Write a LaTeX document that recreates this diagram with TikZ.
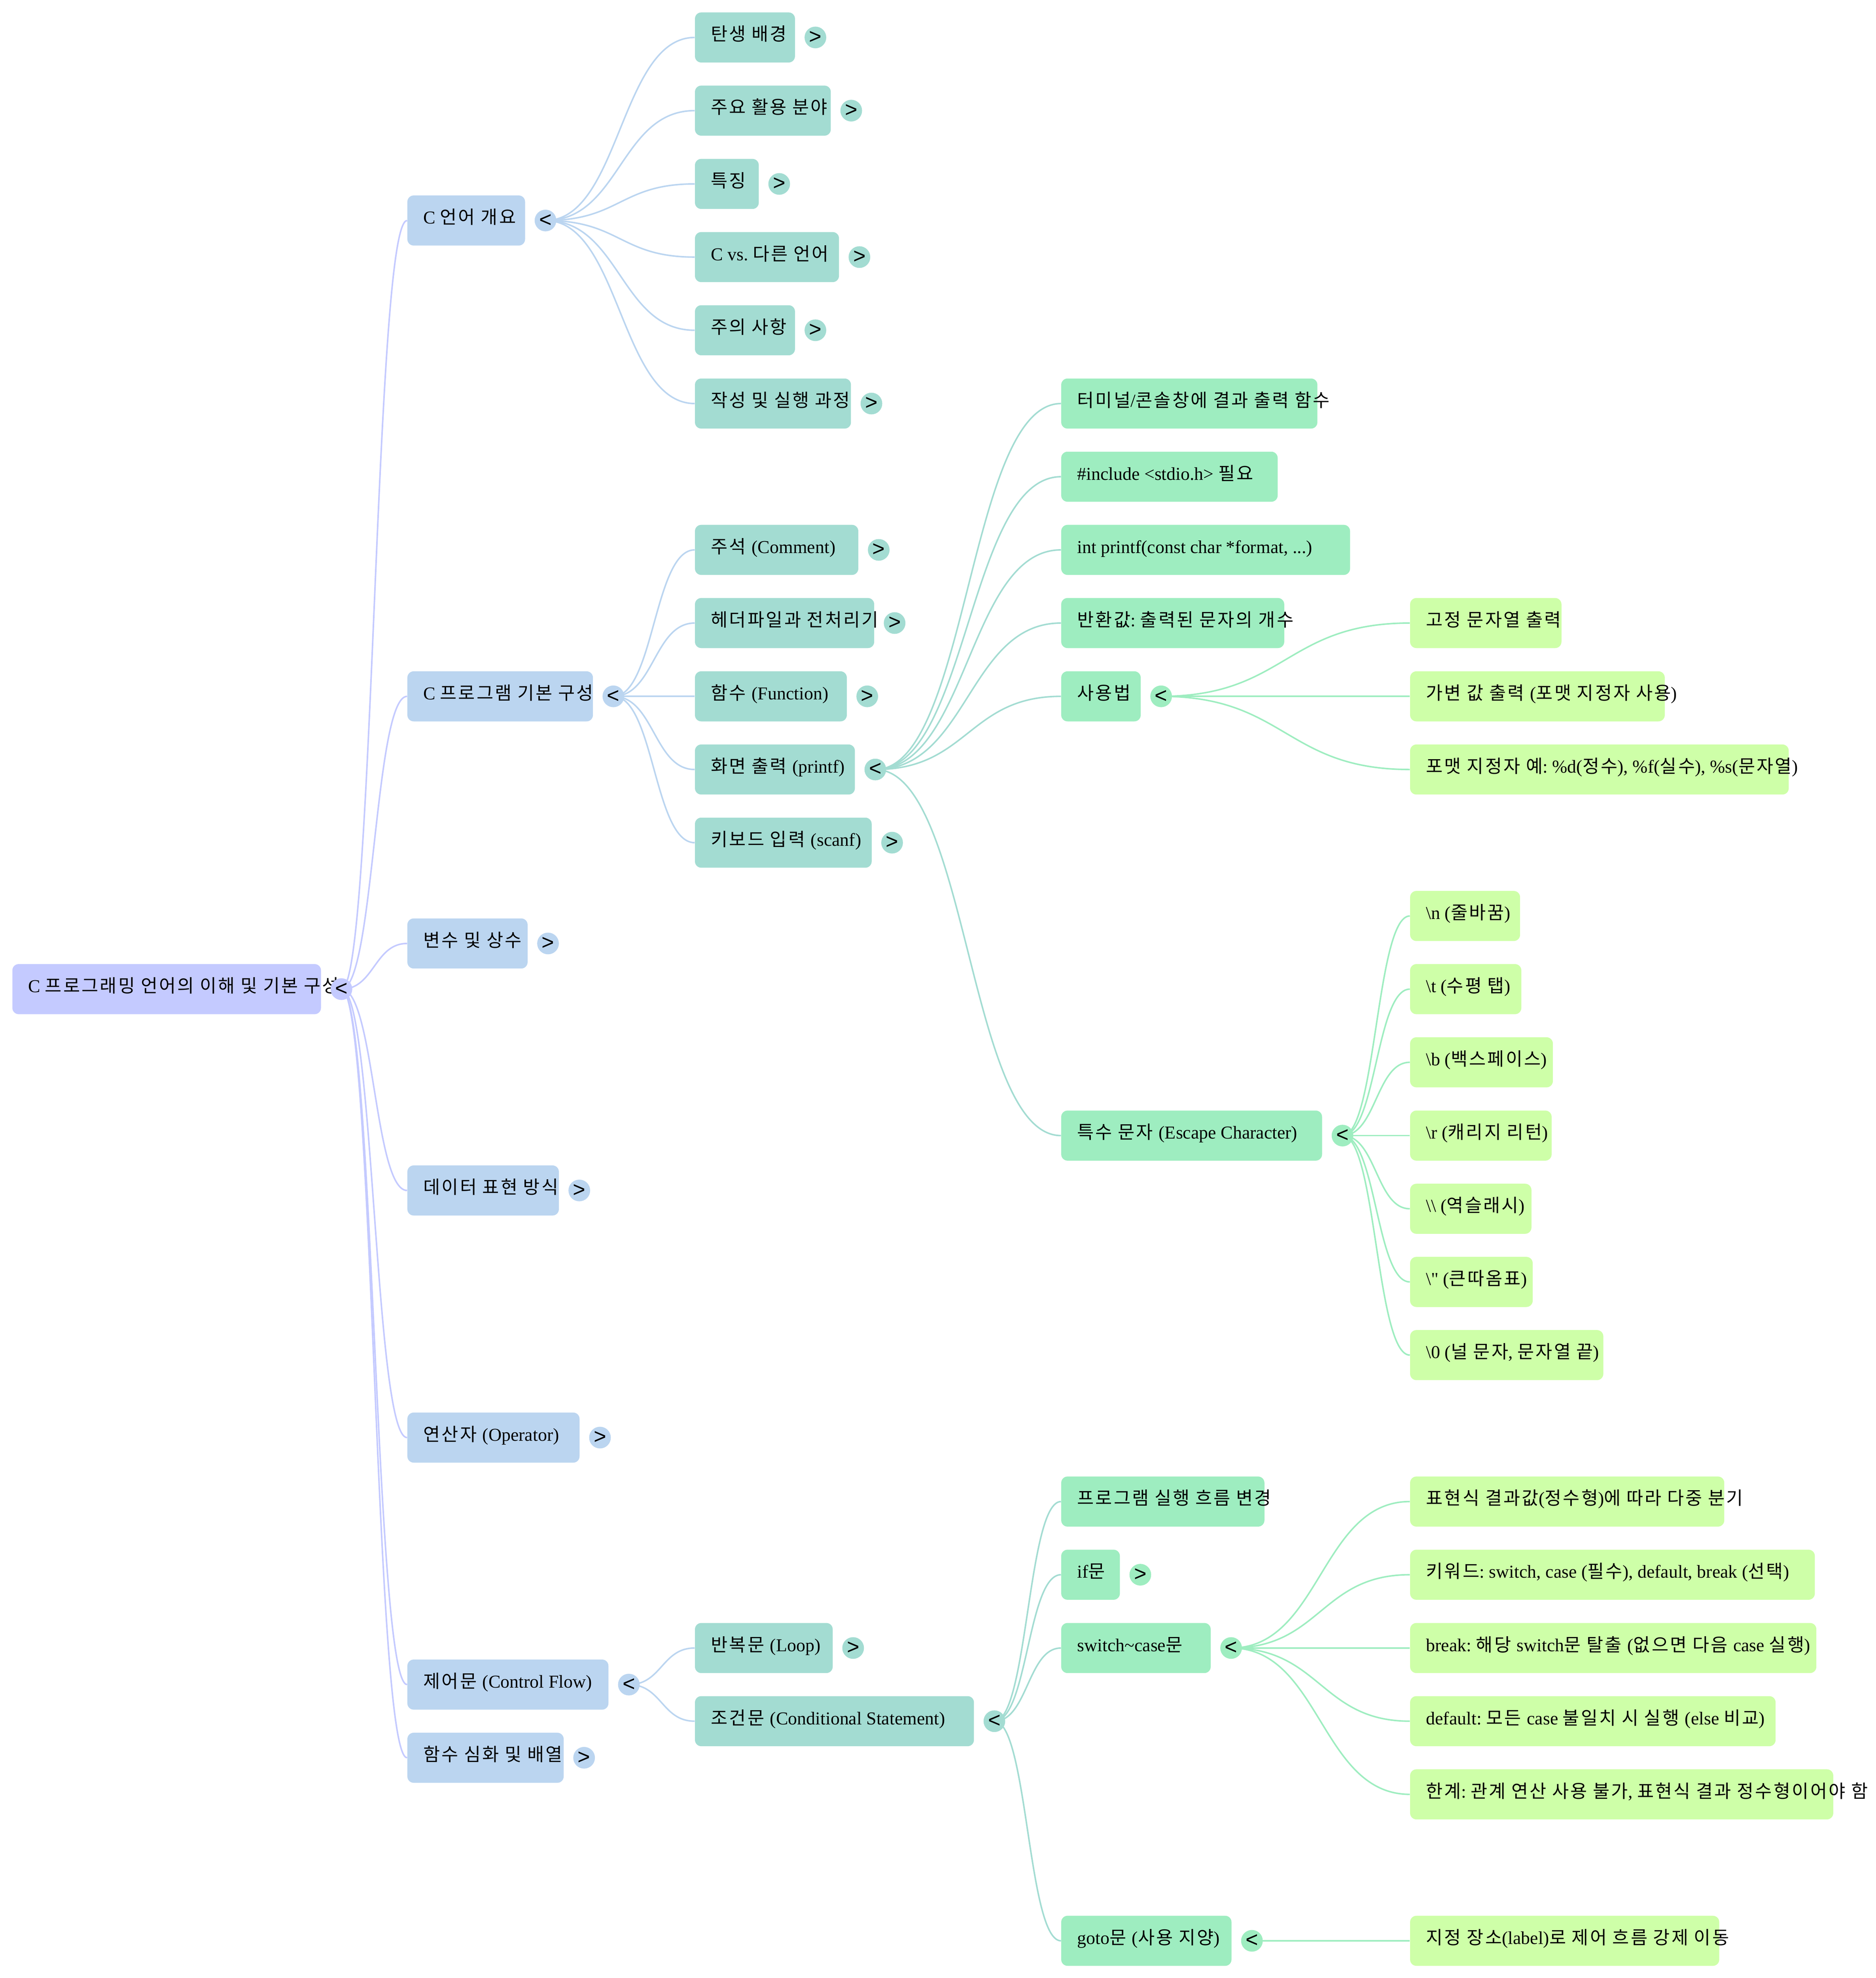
\documentclass[tikz,border=0pt]{standalone}
\usepackage{fontspec}
\setmainfont{Liberation Serif}
\newfontfamily\hangulfont[Scale=1.0,LetterSpace=9]{Noto Sans CJK KR}
\newfontfamily\knobfont{Liberation Sans}
\usetikzlibrary{calc,backgrounds}
\frenchspacing

% Hangul syllables are set in their own font
\XeTeXinterchartokenstate=1
\newXeTeXintercharclass\hangulclass
\newcount\hcode
\hcode="AC00
\loop
  \XeTeXcharclass\hcode=\hangulclass
  \advance\hcode by 1
\ifnum\hcode<"D7A4 \repeat
\newcommand\latinswitch{\rmfamily}
\XeTeXinterchartoks 0 \hangulclass = {\hangulfont}
\XeTeXinterchartoks 4095 \hangulclass = {\hangulfont}
\XeTeXinterchartoks \hangulclass 0 = {\latinswitch}
\XeTeXinterchartoks 4095 0 = {\latinswitch}

\definecolor{rootc}{RGB}{196,202,255}
\definecolor{lvonec}{RGB}{187,213,240}
\definecolor{lvtwoc}{RGB}{163,220,210}
\definecolor{lvthreec}{RGB}{158,237,192}
\definecolor{lvfourc}{RGB}{206,255,168}

% box of fixed width, text may run past it
\newcommand\fixw[2]{\makebox[\dimexpr#1pt-25.4pt\relax][l]{#2}}

\begin{document}
\begin{tikzpicture}[x=1pt,y=-1pt]

      \tikzset{tbox/.style={anchor=west, rounded corners=5pt, inner xsep=12.7pt, inner ysep=0pt,
                 minimum height=39.7pt, text height=9.6pt, text depth=4.4pt,
                 font=\fontsize{14.4}{17}\selectfont},
               rootbox/.style={tbox, fill=rootc},
               lvone/.style={tbox, fill=lvonec},
               lvtwo/.style={tbox, fill=lvtwoc},
               lvthree/.style={tbox, fill=lvthreec},
               lvfour/.style={tbox, fill=lvfourc},
               knob/.style={circle, fill=#1, inner sep=0pt, minimum size=17.2pt,
                 font=\knobfont\fontsize{17}{17}\selectfont\let\latinswitch\relax},
               linkline/.style={line width=1.2pt, to path={let \p1=(\tikztostart), \p2=(\tikztotarget) in
                 .. controls ({(\x1+\x2)/2},\y1) and ({(\x1+\x2)/2},\y2) .. (\tikztotarget)}}}

      \useasboundingbox (0,0) rectangle (1487.2,1568);
%% Root
      	\node[rootbox] (root) at (9.6,784.1) {\fixw{244.7}{C 프로그래밍 언어의 이해 및 기본 구성}};
%% Level 1
      	\node[lvone] (intro) at (322.8,174.8) {\fixw{93.3}{C 언어 개요}};
      	\node[lvone] (basic) at (322.8,552.0) {\fixw{147.1}{C 프로그램 기본 구성}};
      	\node[lvone] (vars) at (322.8,747.9) {\fixw{95.3}{변수 및 상수}};
      	\node[lvone] (data) at (322.8,943.7) {\fixw{120.1}{데이터 표현 방식}};
      	\node[lvone] (oper) at (322.8,1139.6) {\fixw{136.5}{연산자 (Operator)}};
      	\node[lvone] (ctrl) at (322.8,1335.4) {\fixw{159.4}{제어문 (Control Flow)}};
      	\node[lvone] (func) at (322.8,1393.4) {\fixw{123.9}{함수 심화 및 배열}};
%% Level 2
      	\node[lvtwo] (orig) at (550.8,29.7) {\fixw{79.3}{탄생 배경}};
      	\node[lvtwo] (uses) at (550.8,87.7) {\fixw{107.7}{주요 활용 분야}};
      	\node[lvtwo] (feat) at (550.8,145.8) {\fixw{50.6}{특징}};
      	\node[lvtwo] (comp) at (550.8,203.8) {\fixw{114.2}{C vs.\ 다른 언어}};
      	\node[lvtwo] (caut) at (550.8,261.8) {\fixw{79.3}{주의 사항}};
      	\node[lvtwo] (build) at (550.8,319.9) {\fixw{123.7}{작성 및 실행 과정}};
      	\node[lvtwo] (cmt) at (550.8,435.9) {\fixw{129.5}{주석 (Comment)}};
      	\node[lvtwo] (hdr) at (550.8,493.9) {\fixw{142.1}{헤더파일과 전처리기}};
      	\node[lvtwo] (fn) at (550.8,552.0) {\fixw{120.4}{함수 (Function)}};
      	\node[lvtwo] (prt) at (550.8,610.0) {\fixw{126.8}{화면 출력 (printf)}};
      	\node[lvtwo] (scn) at (550.8,668.0) {\fixw{140.1}{키보드 입력 (scanf)}};
      	\node[lvtwo] (loop) at (550.8,1306.4) {\fixw{109.2}{반복문 (Loop)}};
      	\node[lvtwo] (cond) at (550.8,1364.4) {\fixw{221.2}{조건문 (Conditional Statement)}};
%% Level 3
      	\node[lvthree] (p1) at (841.2,319.9) {\fixw{203.1}{터미널/콘솔창에 결과 출력 함수}};
      	\node[lvthree] (p2) at (841.2,377.9) {\fixw{171.6}{\#include <stdio.h> 필요}};
      	\node[lvthree] (p3) at (841.2,435.9) {\fixw{229}{int printf(const char *format, ...)}};
      	\node[lvthree] (p4) at (841.2,493.9) {\fixw{176.8}{반환값: 출력된 문자의 개수}};
      	\node[lvthree] (usage) at (841.2,552.0) {\fixw{63}{사용법}};
      	\node[lvthree] (esc) at (841.2,900.2) {\fixw{206.8}{특수 문자 (Escape Character)}};
      	\node[lvthree] (c1) at (841.2,1190.3) {\fixw{161.1}{프로그램 실행 흐름 변경}};
      	\node[lvthree] (ifst) at (841.2,1248.3) {\fixw{46.5}{if문}};
      	\node[lvthree] (swc) at (841.2,1306.4) {\fixw{118.5}{switch\textasciitilde case문}};
      	\node[lvthree] (gto) at (841.2,1538.5) {\fixw{135}{goto문 (사용 지양)}};
%% Level 4
      	\node[lvfour] (u1) at (1117.8,493.9) {\fixw{120}{고정 문자열 출력}};
      	\node[lvfour] (u2) at (1117.8,552.0) {\fixw{201.9}{가변 값 출력 (포맷 지정자 사용)}};
      	\node[lvfour] (u3) at (1117.8,610.0) {\fixw{300.2}{포맷 지정자 예: \%d(정수), \%f(실수), \%s(문자열)}};
      	\node[lvfour] (e1) at (1117.8,726.1) {\fixw{87.2}{\textbackslash n (줄바꿈)}};
      	\node[lvfour] (e2) at (1117.8,784.1) {\fixw{88.2}{\textbackslash t (수평 탭)}};
      	\node[lvfour] (e3) at (1117.8,842.1) {\fixw{113.2}{\textbackslash b (백스페이스)}};
      	\node[lvfour] (e4) at (1117.8,900.2) {\fixw{112.2}{\textbackslash r (캐리지 리턴)}};
      	\node[lvfour] (e5) at (1117.8,958.2) {\fixw{96.2}{\textbackslash\textbackslash\ (역슬래시)}};
      	\node[lvfour] (e6) at (1117.8,1016.2) {\fixw{97.2}{\textbackslash\textquotedbl\ (큰따옴표)}};
      	\node[lvfour] (e7) at (1117.8,1074.2) {\fixw{153.2}{\textbackslash 0 (널 문자, 문자열 끝)}};
      	\node[lvfour] (s1) at (1117.8,1190.3) {\fixw{249.1}{표현식 결과값(정수형)에 따라 다중 분기}};
      	\node[lvfour] (s2) at (1117.8,1248.3) {\fixw{320.9}{키워드: switch, case (필수), default, break (선택)}};
      	\node[lvfour] (s3) at (1117.8,1306.4) {\fixw{322.1}{break: 해당 switch문 탈출 (없으면 다음 case 실행)}};
      	\node[lvfour] (s4) at (1117.8,1364.4) {\fixw{289.8}{default: 모든 case 불일치 시 실행 (else 비교)}};
      	\node[lvfour] (s5) at (1117.8,1422.4) {\fixw{335.5}{한계: 관계 연산 사용 불가, 표현식 결과 정수형이어야 함}};
      	\node[lvfour] (g1) at (1117.8,1538.5) {\fixw{245.1}{지정 장소(label)로 제어 흐름 강제 이동}};
%% Toggles
      	\node[knob=rootc] (root-k) at ([xshift=16pt]root.east) {<};
      	\node[knob=lvonec] (intro-k) at ([xshift=16pt]intro.east) {<};
      	\node[knob=lvonec] (basic-k) at ([xshift=16pt]basic.east) {<};
      	\node[knob=lvonec] (vars-k) at ([xshift=16pt]vars.east) {>};
      	\node[knob=lvonec] (data-k) at ([xshift=16pt]data.east) {>};
      	\node[knob=lvonec] (oper-k) at ([xshift=16pt]oper.east) {>};
      	\node[knob=lvonec] (ctrl-k) at ([xshift=16pt]ctrl.east) {<};
      	\node[knob=lvonec] (func-k) at ([xshift=16pt]func.east) {>};
      	\node[knob=lvtwoc] (orig-k) at ([xshift=16pt]orig.east) {>};
      	\node[knob=lvtwoc] (uses-k) at ([xshift=16pt]uses.east) {>};
      	\node[knob=lvtwoc] (feat-k) at ([xshift=16pt]feat.east) {>};
      	\node[knob=lvtwoc] (comp-k) at ([xshift=16pt]comp.east) {>};
      	\node[knob=lvtwoc] (caut-k) at ([xshift=16pt]caut.east) {>};
      	\node[knob=lvtwoc] (build-k) at ([xshift=16pt]build.east) {>};
      	\node[knob=lvtwoc] (cmt-k) at ([xshift=16pt]cmt.east) {>};
      	\node[knob=lvtwoc] (hdr-k) at ([xshift=16pt]hdr.east) {>};
      	\node[knob=lvtwoc] (fn-k) at ([xshift=16pt]fn.east) {>};
      	\node[knob=lvtwoc] (prt-k) at ([xshift=16pt]prt.east) {<};
      	\node[knob=lvtwoc] (scn-k) at ([xshift=16pt]scn.east) {>};
      	\node[knob=lvtwoc] (loop-k) at ([xshift=16pt]loop.east) {>};
      	\node[knob=lvtwoc] (cond-k) at ([xshift=16pt]cond.east) {<};
      	\node[knob=lvthreec] (usage-k) at ([xshift=16pt]usage.east) {<};
      	\node[knob=lvthreec] (esc-k) at ([xshift=16pt]esc.east) {<};
      	\node[knob=lvthreec] (ifst-k) at ([xshift=16pt]ifst.east) {>};
      	\node[knob=lvthreec] (swc-k) at ([xshift=16pt]swc.east) {<};
      	\node[knob=lvthreec] (gto-k) at ([xshift=16pt]gto.east) {<};
%Edges
      \begin{pgfonlayer}{background}
		\path (root-k.center) edge[linkline, rootc] (intro.west);
		\path (root-k.center) edge[linkline, rootc] (basic.west);
		\path (root-k.center) edge[linkline, rootc] (vars.west);
		\path (root-k.center) edge[linkline, rootc] (data.west);
		\path (root-k.center) edge[linkline, rootc] (oper.west);
		\path (root-k.center) edge[linkline, rootc] (ctrl.west);
		\path (root-k.center) edge[linkline, rootc] (func.west);
		\path (intro-k.center) edge[linkline, lvonec] (orig.west);
		\path (intro-k.center) edge[linkline, lvonec] (uses.west);
		\path (intro-k.center) edge[linkline, lvonec] (feat.west);
		\path (intro-k.center) edge[linkline, lvonec] (comp.west);
		\path (intro-k.center) edge[linkline, lvonec] (caut.west);
		\path (intro-k.center) edge[linkline, lvonec] (build.west);
		\path (basic-k.center) edge[linkline, lvonec] (cmt.west);
		\path (basic-k.center) edge[linkline, lvonec] (hdr.west);
		\path (basic-k.center) edge[linkline, lvonec] (fn.west);
		\path (basic-k.center) edge[linkline, lvonec] (prt.west);
		\path (basic-k.center) edge[linkline, lvonec] (scn.west);
		\path (ctrl-k.center) edge[linkline, lvonec] (loop.west);
		\path (ctrl-k.center) edge[linkline, lvonec] (cond.west);
		\path (prt-k.center) edge[linkline, lvtwoc] (p1.west);
		\path (prt-k.center) edge[linkline, lvtwoc] (p2.west);
		\path (prt-k.center) edge[linkline, lvtwoc] (p3.west);
		\path (prt-k.center) edge[linkline, lvtwoc] (p4.west);
		\path (prt-k.center) edge[linkline, lvtwoc] (usage.west);
		\path (prt-k.center) edge[linkline, lvtwoc] (esc.west);
		\path (cond-k.center) edge[linkline, lvtwoc] (c1.west);
		\path (cond-k.center) edge[linkline, lvtwoc] (ifst.west);
		\path (cond-k.center) edge[linkline, lvtwoc] (swc.west);
		\path (cond-k.center) edge[linkline, lvtwoc] (gto.west);
		\path (usage-k.center) edge[linkline, lvthreec] (u1.west);
		\path (usage-k.center) edge[linkline, lvthreec] (u2.west);
		\path (usage-k.center) edge[linkline, lvthreec] (u3.west);
		\path (esc-k.center) edge[linkline, lvthreec] (e1.west);
		\path (esc-k.center) edge[linkline, lvthreec] (e2.west);
		\path (esc-k.center) edge[linkline, lvthreec] (e3.west);
		\path (esc-k.center) edge[linkline, lvthreec] (e4.west);
		\path (esc-k.center) edge[linkline, lvthreec] (e5.west);
		\path (esc-k.center) edge[linkline, lvthreec] (e6.west);
		\path (esc-k.center) edge[linkline, lvthreec] (e7.west);
		\path (swc-k.center) edge[linkline, lvthreec] (s1.west);
		\path (swc-k.center) edge[linkline, lvthreec] (s2.west);
		\path (swc-k.center) edge[linkline, lvthreec] (s3.west);
		\path (swc-k.center) edge[linkline, lvthreec] (s4.west);
		\path (swc-k.center) edge[linkline, lvthreec] (s5.west);
		\path (gto-k.center) edge[linkline, lvthreec] (g1.west);
      \end{pgfonlayer}

	\end{tikzpicture}
\end{document}
